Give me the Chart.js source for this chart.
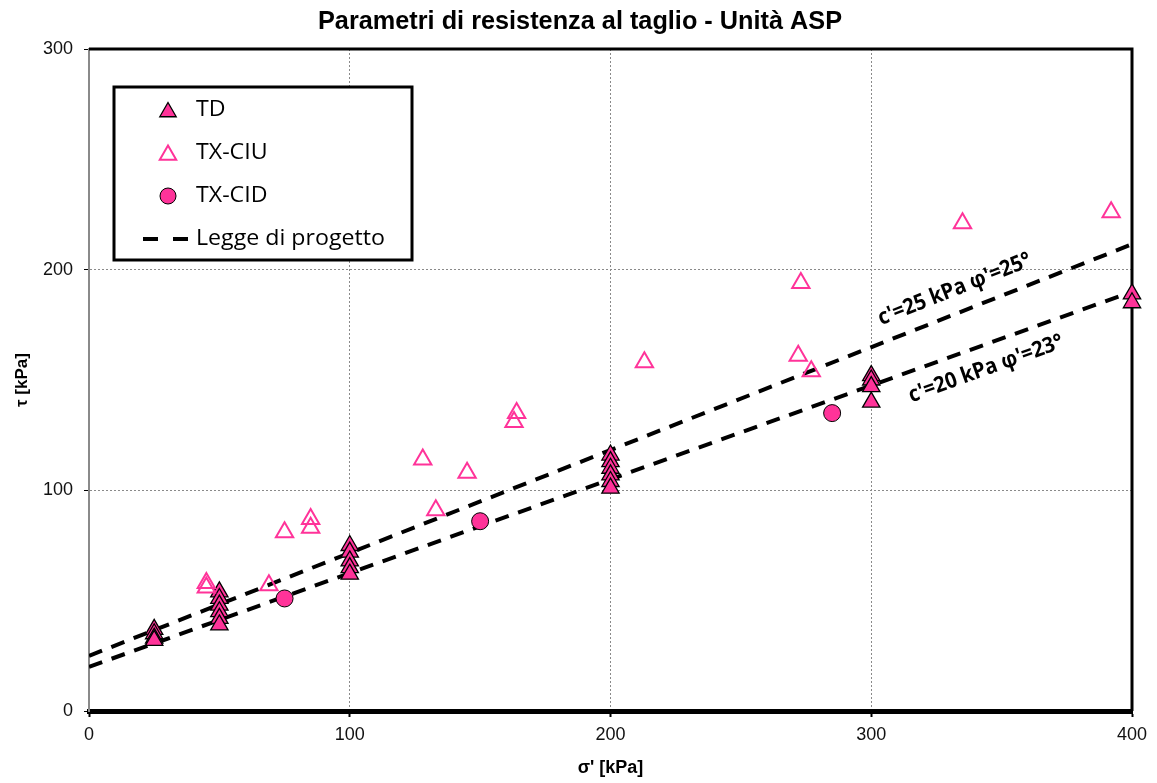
<!DOCTYPE html>
<html>
<head>
<meta charset="utf-8">
<script src="https://cdn.jsdelivr.net/npm/chart.js@4.4.1/dist/chart.umd.min.js"></script>
<style>
  html, body { margin: 0; padding: 0; background: #fff; }
  #wrap { width: 1157px; height: 783px; position: relative; }
</style>
</head>
<body>
<div id="wrap"><canvas id="grafico"></canvas></div>
<script>
// Dati (sigma' / tau in kPa)
const sigmaTD = [25, 25, 25, 25, 50, 50, 50, 50, 50, 50, 100, 100, 100, 100, 100, 200, 200, 200, 200, 200, 200, 300, 300, 300, 300, 400, 400];
const tauTD   = [37, 35, 33, 32, 54, 51, 48, 45, 42, 39, 75, 72, 68, 65, 62, 116, 113, 110, 107, 104, 101, 152, 150, 147, 140, 189, 185];

const sigmaCIU = [45, 45, 69, 75, 85, 85, 128, 133, 145, 163, 164, 213, 272, 273, 277, 335, 392];
const tauCIU   = [58, 56, 57, 81, 83, 87, 114, 91, 108, 131, 135, 158, 161, 194, 154, 221, 226];

const sigmaCID = [75, 150, 285];
const tauCID   = [51, 86, 135];

// Leggi di progetto (estremi letti a sigma' = 0 e 400)
const sigmaLegge = [0, 400];
const tauLegge25 = [25, 211.5];
const tauLegge20 = [20, 190];

const xTicks = [0, 100, 200, 300, 400];
const yTicks = [0, 100, 200, 300];

const titolo = "Parametri di resistenza al taglio - Unità ASP";
const labelLegge25 = "c'=25 kPa φ'=25°";
const labelLegge20 = "c'=20 kPa φ'=23°";

const ROSA = "#FF3399";
const ARIAL = "Arial, 'Liberation Sans', sans-serif";
const CALIBRI = "'Open Sans', Lato, sans-serif";

const pts = (xs, ys) => xs.map((x, i) => ({ x, y: ys[i] }));

const datasets = [
  { label: "TD", data: pts(sigmaTD, tauTD), pointStyle: "triangle", pointRadius: 10,
    backgroundColor: ROSA, borderColor: "#000", borderWidth: 1.3, order: 3, clip: false },
  { label: "TX-CIU", data: pts(sigmaCIU, tauCIU), pointStyle: "triangle", pointRadius: 10,
    backgroundColor: "rgba(0,0,0,0)", borderColor: ROSA, borderWidth: 2, order: 2, clip: false },
  { label: "TX-CID", data: pts(sigmaCID, tauCID), pointStyle: "circle", pointRadius: 8.5,
    backgroundColor: ROSA, borderColor: "#000", borderWidth: 1, order: 1, clip: false },
  { label: "Legge di progetto", data: pts(sigmaLegge, tauLegge25), showLine: true, pointRadius: 0,
    borderColor: "#000", borderWidth: 4, borderDash: [14, 10], order: 5, testo: labelLegge25,
    posTesto: { x: 332, y: 191 } },
  { label: "Legge di progetto 20", data: pts(sigmaLegge, tauLegge20), showLine: true, pointRadius: 0,
    borderColor: "#000", borderWidth: 4, borderDash: [14, 10], order: 5, testo: labelLegge20,
    posTesto: { x: 344, y: 155 }, nascondiLegenda: true }
];

// testo allargato in orizzontale fino alla larghezza voluta
function testoLargo(ctx, txt, x, y, larghezza) {
  const sx = larghezza / ctx.measureText(txt).width;
  ctx.save();
  ctx.translate(x, y);
  ctx.scale(sx, 1);
  ctx.fillText(txt, 0, 0);
  ctx.restore();
}

// Titolo + bordo superiore e destro dell'area grafico
const cornice = {
  id: "cornice",
  beforeDatasetsDraw(chart) {
    const { ctx, chartArea: a } = chart;
    ctx.save();
    ctx.strokeStyle = "#000";
    ctx.lineWidth = 3;
    ctx.beginPath();
    ctx.moveTo(a.left, a.top); ctx.lineTo(a.right, a.top); ctx.lineTo(a.right, a.bottom);
    ctx.stroke();
    ctx.fillStyle = "#000";
    ctx.font = "bold 25px " + ARIAL;
    ctx.textAlign = "center";
    ctx.textBaseline = "middle";
    testoLargo(ctx, titolo, 580, 22, 524);
    ctx.restore();
  }
};

// Etichette ruotate lungo le rette
const etichette = {
  id: "etichette",
  afterDatasetsDraw(chart) {
    const { ctx, scales } = chart;
    chart.data.datasets.forEach(ds => {
      if (!ds.testo) return;
      const p0 = ds.data[0], p1 = ds.data[ds.data.length - 1];
      const ang = Math.atan2(scales.y.getPixelForValue(p1.y) - scales.y.getPixelForValue(p0.y),
                             scales.x.getPixelForValue(p1.x) - scales.x.getPixelForValue(p0.x));
      ctx.save();
      ctx.translate(scales.x.getPixelForValue(ds.posTesto.x), scales.y.getPixelForValue(ds.posTesto.y));
      ctx.rotate(ang);
      ctx.font = "bold 22px " + CALIBRI;
      ctx.fillStyle = "#000";
      ctx.textAlign = "center";
      ctx.textBaseline = "middle";
      testoLargo(ctx, ds.testo, 0, 0, 163);
      ctx.restore();
    });
  }
};

// Legenda con riquadro
const legenda = {
  id: "legenda",
  afterDraw(chart) {
    const { ctx } = chart;
    const bx = 114, by = 87, bw = 298, bh = 173;
    ctx.save();
    ctx.fillStyle = "#fff";
    ctx.fillRect(bx, by, bw, bh);
    ctx.strokeStyle = "#000";
    ctx.lineWidth = 3;
    ctx.strokeRect(bx, by, bw, bh);
    ctx.font = "21px " + CALIBRI;
    const sx = 189 / ctx.measureText("Legge di progetto").width;
    const righe = chart.data.datasets.filter(d => !d.nascondiLegenda);
    righe.forEach((ds, i) => {
      const y = 110 + i * 43;
      if (ds.showLine) {
        ctx.strokeStyle = ds.borderColor;
        ctx.lineWidth = ds.borderWidth;
        ctx.setLineDash([15, 15]);
        ctx.beginPath();
        ctx.moveTo(143, y); ctx.lineTo(189, y);
        ctx.stroke();
        ctx.setLineDash([]);
      } else {
        ctx.fillStyle = ds.backgroundColor;
        ctx.strokeStyle = ds.borderColor;
        ctx.lineWidth = ds.borderWidth;
        Chart.helpers.drawPoint(ctx, { pointStyle: ds.pointStyle, radius: ds.pointStyle === "circle" ? 8 : 9.5,
          rotation: 0, borderWidth: ds.borderWidth }, 168, y + (ds.pointStyle === "triangle" ? 2 : 0));
      }
      ctx.fillStyle = "#000";
      ctx.textAlign = "left";
      ctx.textBaseline = "middle";
      testoLargo(ctx, ds.label, 196, y, ctx.measureText(ds.label).width * sx);
    });
    ctx.restore();
  }
};

new Chart(document.getElementById("grafico"), {
  type: "scatter",
  data: { datasets },
  plugins: [cornice, etichette, legenda],
  options: {
    responsive: true,
    maintainAspectRatio: false,
    animation: false,
    layout: { padding: { left: 0, right: 25, top: 49, bottom: 0 } },
    plugins: {
      legend: { display: false },
      tooltip: { enabled: false },
      title: { display: false }
    },
    scales: {
      x: {
        type: "linear", min: 0, max: 400,
        afterBuildTicks: s => { s.ticks = xTicks.map(v => ({ value: v })); },
        afterFit: s => { s.height = 72; },
        border: { display: true, color: "#000", width: 5, dash: [2, 2] },
        grid: { color: "#8a8a8a", lineWidth: 1, tickColor: "#000", tickLength: 6,
                tickWidth: 2, tickBorderDash: [] },
        ticks: { color: "#111", padding: 7, font: { family: ARIAL, size: 18 } },
        title: { display: true, text: "σ' [kPa]", color: "#000", padding: { top: 2 },
                 font: { family: ARIAL, size: 18, weight: "bold" } }
      },
      y: {
        type: "linear", min: 0, max: 300,
        afterBuildTicks: s => { s.ticks = yTicks.map(v => ({ value: v })); },
        afterFit: s => { s.width = 89; },
        border: { display: true, color: "#8a8a8a", width: 2, dash: [2, 2] },
        grid: { color: "#8a8a8a", lineWidth: 1, tickColor: "#000", tickLength: 5,
                tickWidth: 1, tickBorderDash: [] },
        ticks: { color: "#111", padding: 11, font: { family: ARIAL, size: 18 } },
        title: { display: true, text: "τ [kPa]", color: "#000", padding: { top: 12, bottom: 0 },
                 font: { family: ARIAL, size: 17, weight: "bold" } }
      }
    }
  }
});
</script>
</body>
</html>
